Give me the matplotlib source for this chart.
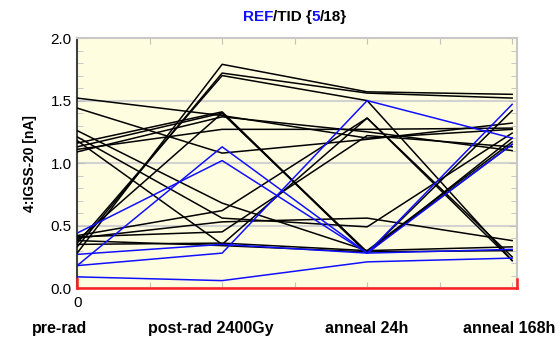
import numpy as np
import matplotlib
matplotlib.use('Agg')
import matplotlib.pyplot as plt

plt.rcParams['font.family'] = ['Liberation Sans', 'DejaVu Sans']

# Measurement steps
steps = ['pre-rad', 'post-rad 2400Gy', 'anneal 24h', 'anneal 168h']

# Reference devices (blue)
ref = [
    [0.44, 1.02, 0.28, 1.47],
    [0.18, 1.13, 0.28, 1.15],
    [0.18, 0.28, 1.50, 1.20],
    [0.27, 0.35, 0.28, 0.31],
    [0.09, 0.06, 0.21, 0.24],
]

# Irradiated devices (black)
tid = [
    [1.52, 1.38, 1.20, 1.27],
    [1.44, 1.08, 1.19, 1.32],
    [1.26, 0.68, 0.30, 1.17],
    [1.21, 0.56, 0.49, 1.24],
    [1.18, 0.35, 1.36, 0.22],
    [1.16, 1.41, 0.28, 1.20],
    [1.13, 1.40, 0.29, 1.15],
    [1.09, 1.37, 1.25, 1.10],
    [1.11, 1.27, 1.27, 1.28],
    [0.28, 1.79, 1.57, 1.55],
    [0.33, 1.72, 1.56, 1.52],
    [0.36, 1.70, 1.50, 0.22],
    [0.38, 1.40, 0.28, 1.42],
    [0.42, 0.62, 1.36, 0.25],
    [0.40, 0.53, 0.56, 0.38],
    [0.41, 0.45, 1.22, 1.13],
    [0.35, 0.36, 0.30, 0.33],
    [0.38, 0.34, 0.29, 0.30],
]

x = np.arange(len(steps))

fig = plt.figure(figsize=(5.59, 3.43), dpi=100)
ax = fig.add_axes([0.138, 0.160, 0.786, 0.729])
ax.set_facecolor('#fffde0')

for yy in [0.5, 1.0, 1.5]:
    ax.axhline(yy, color='#d2d2d2', lw=1.5, zorder=1)

for row in tid:
    ax.plot(x, row, color='black', lw=1.1, zorder=3)
for row in ref:
    ax.plot(x, row, color='#1010ff', lw=1.1, zorder=4)

# red limit line at zero
ax.plot([0, 3.03], [0, 0], color='#ff2020', lw=1.8, zorder=5, clip_on=False)
ax.plot([0, 0], [0, 0.07], color='#ff2020', lw=1.8, zorder=5, clip_on=False)
ax.plot([3.03, 3.03], [0, 0.07], color='#ff2020', lw=1.8, zorder=5, clip_on=False)

ax.set_xlim(0, 3.03)
ax.set_ylim(0, 2.0)

for side in ['top', 'right', 'bottom']:
    ax.spines[side].set_color('#c8c8c8')
    ax.spines[side].set_linewidth(1.5)
ax.spines['left'].set_color('#404040')
ax.spines['left'].set_linewidth(1.5)

ax.set_yticks([0.0, 0.5, 1.0, 1.5, 2.0])
ax.set_yticklabels(['0.0', '0.5', '1.0', '1.5', '2.0'], fontsize=11)
ax.set_yticks(np.arange(0, 2.01, 0.1), minor=True)
ax.tick_params(axis='y', which='both', direction='in', right=True, color='#c0c0c0',
               labelcolor='black', length=4)
ax.tick_params(axis='y', which='major', length=6, pad=4)

ax.set_xticks(np.arange(0, 3.01, 0.5))
ax.set_xticklabels(['0', '', '', '', '', '', ''], fontsize=11)
ax.tick_params(axis='x', direction='in', top=True, color='#c0c0c0', length=4, pad=6)

ax.set_ylabel('4:IGSS-20 [nA]', fontsize=10, fontweight='bold', labelpad=10)

label_x = [-0.12, 0.92, 2.0, 2.98]
for lx, s in zip(label_x, steps):
    ax.text(lx, -0.32, s, transform=ax.transData, ha='center', va='center',
            fontsize=11.5, fontweight='bold')

# two-colour title
parts = [('REF', '#1010ff'), ('/TID {', 'black'), ('5', '#1010ff'), ('/18}', 'black')]
fig.canvas.draw()
renderer = fig.canvas.get_renderer()
widths = []
texts = []
for s, c in parts:
    t = fig.text(0, 0.95, s, color=c, fontsize=11, fontweight='bold', va='center')
    texts.append(t)
    widths.append(t.get_window_extent(renderer).width)
total = sum(widths)
start = 295 - total / 2
for t, w in zip(texts, widths):
    t.set_x(start / fig.bbox.width)
    start += w

fig.savefig('out.png', dpi=100)
